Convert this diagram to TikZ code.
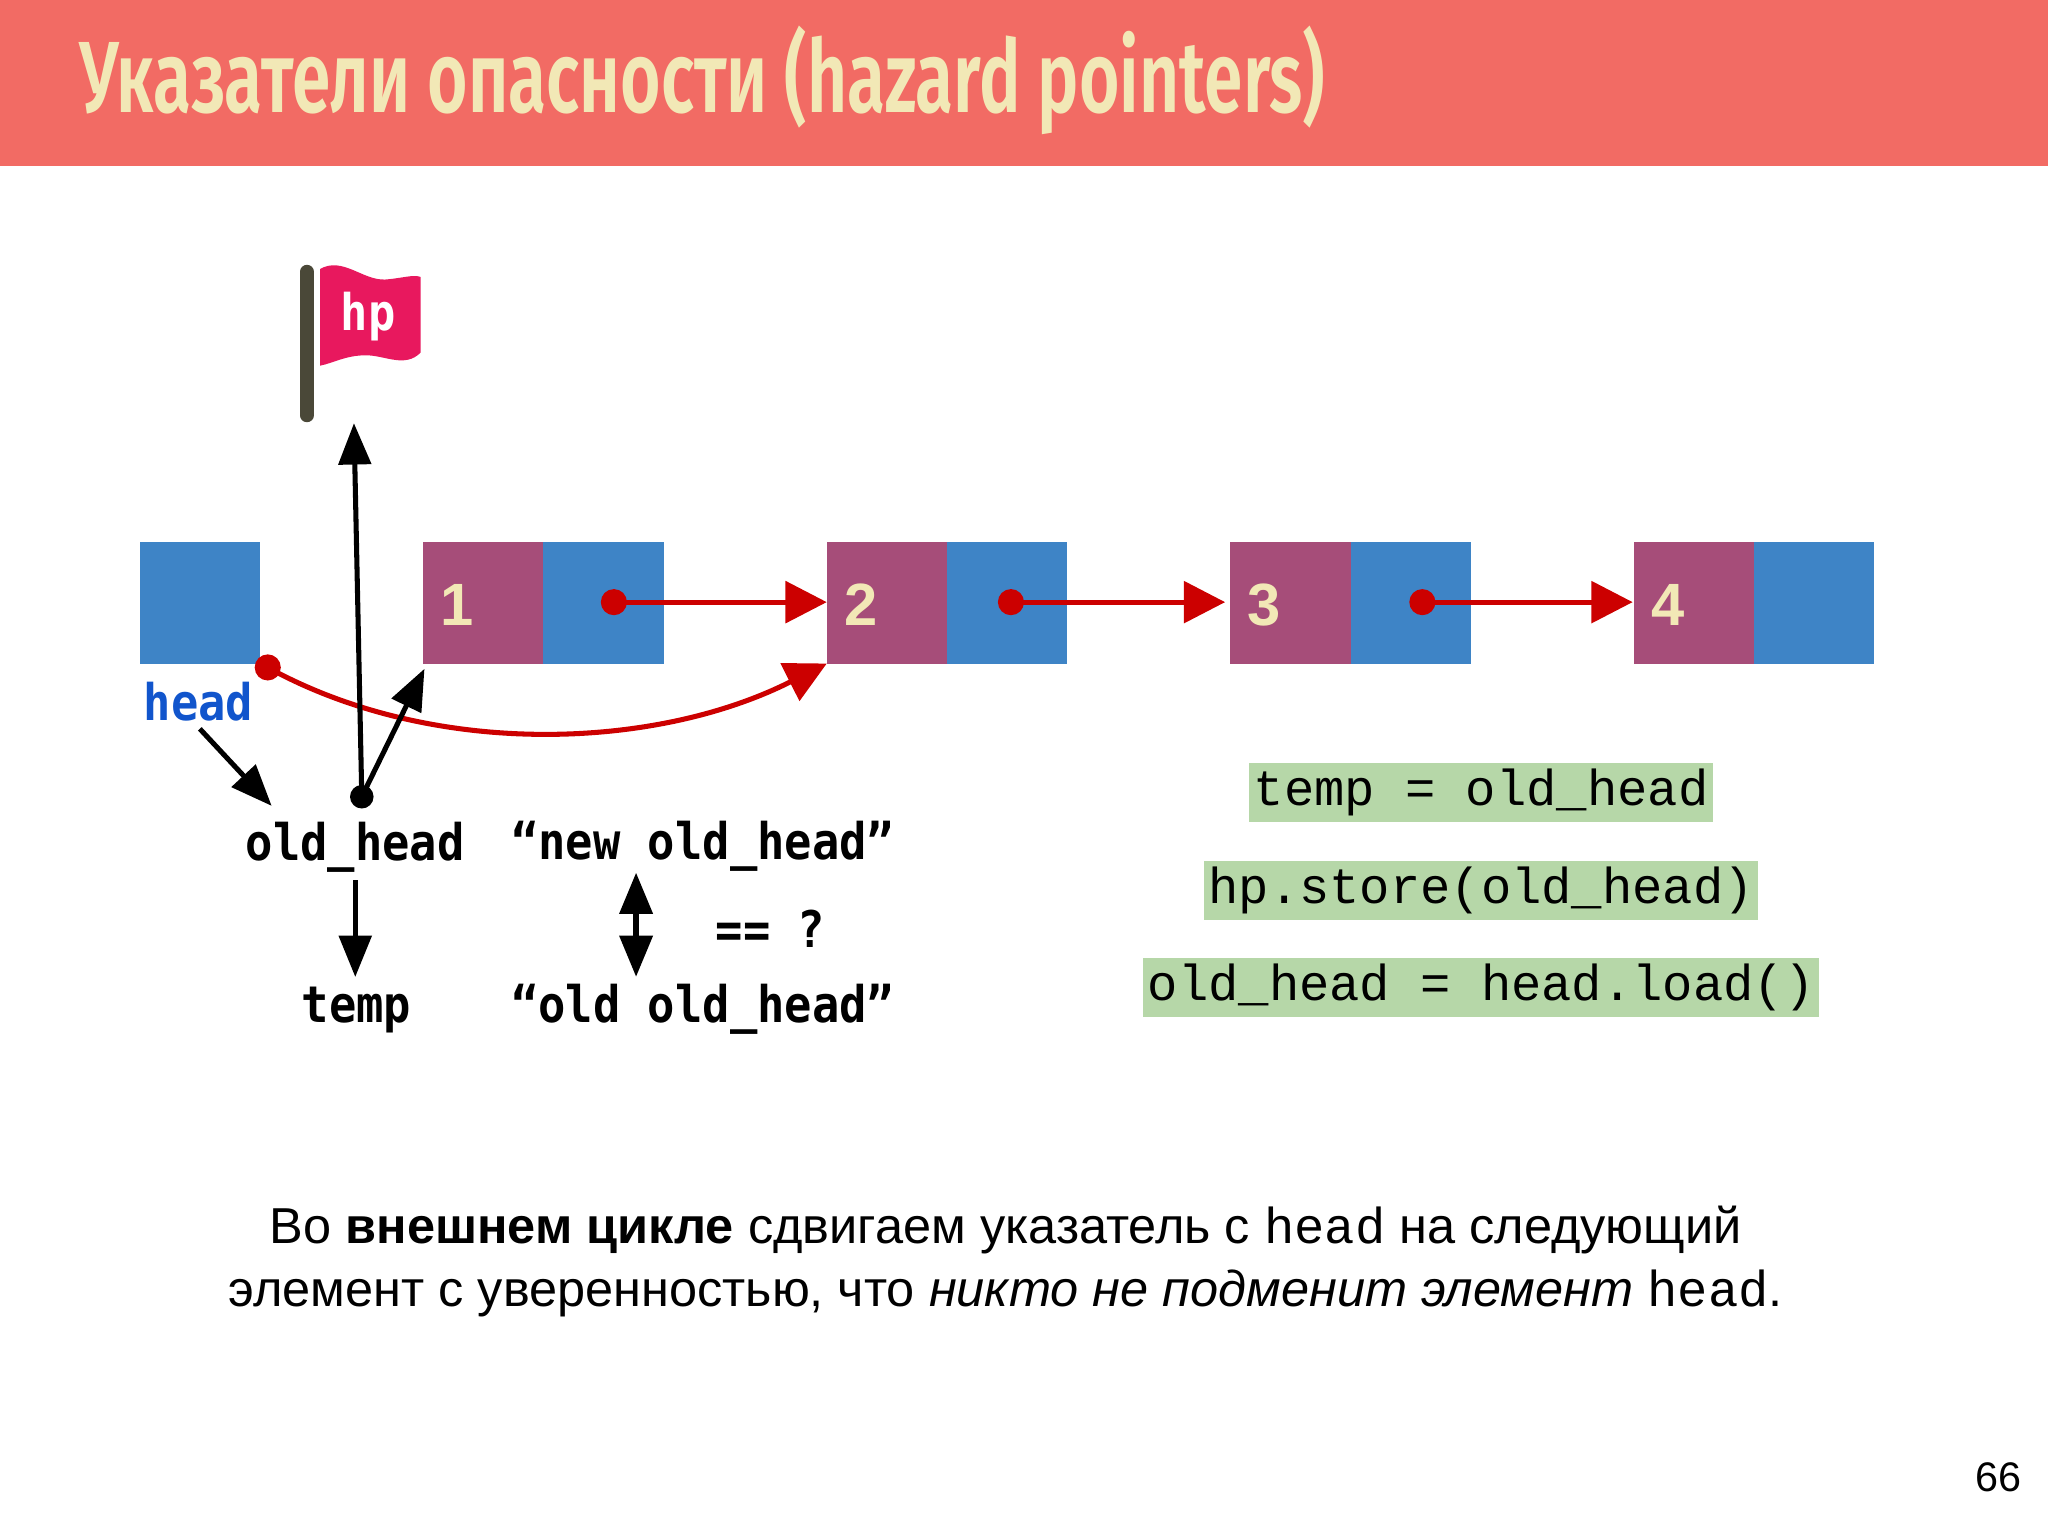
\documentclass[tikz,border=0pt]{standalone}
\usepackage{fontspec}
\setmainfont{Liberation Sans}
\newfontfamily\titlefont{Fira Sans SemiBold}
\newfontfamily\lblfont{DejaVu Sans Mono}
\newfontfamily\codefont{Liberation Mono}
\usetikzlibrary{arrows.meta}
\definecolor{bar}{HTML}{F26B64}
\definecolor{cream}{HTML}{F2E8B6}
\definecolor{cblue}{HTML}{3E84C6}
\definecolor{cpurp}{HTML}{A64D79}
\definecolor{cred}{HTML}{CC0000}
\definecolor{cgreen}{HTML}{B6D7A8}
\definecolor{hblue}{HTML}{1155CC}
\definecolor{flagpink}{HTML}{E8185E}
\definecolor{pole}{HTML}{4A4838}
\newcommand{\nrw}[1]{\scalebox{0.9}[1]{#1}}
\begin{document}
\begin{tikzpicture}[x=0.1mm,y=-0.1mm,
 bl/.style={fill=cblue,draw=none},
 pu/.style={fill=cpurp,draw=none},
 num/.style={text=cream,font=\bfseries\fontsize{13}{13}\selectfont},
 rarr/.style={cred,line width=1.1pt,-{Triangle[length=9pt,width=9pt]}},
 barr/.style={black,line width=1.1pt,-{Triangle[length=9pt,width=7pt]}},
 lbl/.style={font=\lblfont\bfseries\fontsize{11}{11}\selectfont,inner sep=0},
 code/.style={fill=cgreen,font=\codefont\fontsize{11}{11}\selectfont,inner sep=1pt,minimum height=45*0.1mm}]
\useasboundingbox (0,0) rectangle (1568,1176);
\fill[bar] (0,0) rectangle (1568,127);
\node[anchor=base west,text=cream,font=\titlefont\fontsize{21}{21}\selectfont,inner sep=0] (title) at (60,86) {\scalebox{0.72}[1.05]{Указатели опасности (hazard pointers)}};
% boxes
\fill[bl] (107,415) rectangle (199,508);
\coordinate (hb) at (153,461);
\foreach \x/\n in {324/1,633/2,942/3,1251/4}{
 \fill[pu] (\x,415) rectangle (\x+92,508);
 \fill[bl] (\x+92,415) rectangle (\x+184,508);
 \node[num] (n\n) at (\x+26,463) {\n};
}
\coordinate (d1) at (470,461); \coordinate (d2) at (774,461); \coordinate (d3) at (1089,461);
\coordinate (t2) at (633,461); \coordinate (t3) at (938,461); \coordinate (t4) at (1250,461);
\draw[rarr] (d1) -- (t2);
\draw[rarr] (d2) -- (t3);
\draw[rarr] (d3) -- (t4);
\foreach \d in {d1,d2,d3} \fill[cred] (\d) circle (10);
\coordinate (hd) at (205,511); \coordinate (n2b) at (633,508);
\draw[rarr] (hd) .. controls (330,580) and (500,575) .. (n2b);
\fill[cred] (hd) circle (10);
% labels
\node[text=hblue,font=\lblfont\bfseries\fontsize{11}{11}\selectfont] (head) at (152,537) {\nrw{head}};
\node[lbl] (oh) at (272,649) {\nrw{old\_head}};
\node[lbl] (tmp) at (273,773) {\nrw{temp}};
\node[lbl] (noh) at (538,648) {\nrw{“new old\_head”}};
\node[lbl] (ooh) at (538,773) {\nrw{“old old\_head”}};
\node[lbl] (eq) at (590,711) {\nrw{== ?}};
\coordinate (od) at (277,610);
\coordinate (fl) at (271,324);
\coordinate (n1b) at (325,512);
\draw[barr] (153,558) -- (208,617);
\draw[barr] (od) -- (fl);
\draw[barr] (od) -- (n1b);
\fill (od) circle (9);
\draw[barr] (272,674) -- (272,748);
\draw[black,line width=1.4pt,{Triangle[length=9pt,width=7pt]}-{Triangle[length=9pt,width=7pt]}] (487,668) -- (487,748);
% flag
\draw[pole,line width=3pt,line cap=round] (235,208) -- (235,318);
\fill[flagpink] (245,206) .. controls (262,196) and (278,215) .. (295,214) .. controls (308,213) and (316,210) .. (322,212)
 -- (322,270) .. controls (310,282) and (295,272) .. (280,272) .. controls (265,272) and (255,278) .. (245,280) -- cycle;
\node[text=white,font=\lblfont\bfseries\fontsize{11}{11}\selectfont] (hp) at (282,242) {\nrw{hp}};
% code
\node[code] (c1) at (1134,607) {temp = old\_head};
\node[code] (c2) at (1134,682) {hp.store(old\_head)};
\node[code] (c3) at (1134,756) {old\_head = head.load()};
% body
\node[font=\fontsize{11}{13.7}\selectfont,align=center] (body) at (770,966) {Во \textbf{внешнем цикле} сдвигаем указатель с {\codefont head} на следующий\\ элемент с уверенностью, что \textit{никто не подменит элемент} {\codefont head}.};
\node[font=\fontsize{9}{9}\selectfont] (pg) at (1530,1131) {66};
\end{tikzpicture}
\end{document}
